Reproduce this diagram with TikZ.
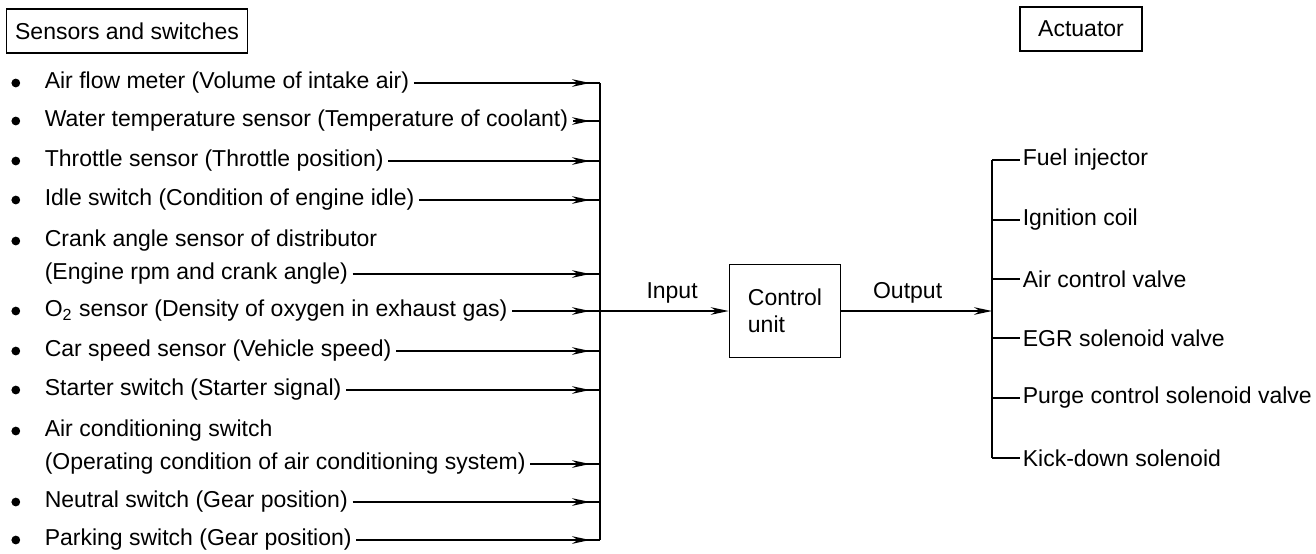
\documentclass[tikz,border=0pt]{standalone}
\usepackage{fontspec}
\setmainfont{Liberation Sans}
\usetikzlibrary{arrows.meta,decorations.markings}

\begin{document}
\begin{tikzpicture}[x=0.5pt, y=-0.5pt,
                    line width=0.8pt,
                    font=\fontsize{11.5}{13.5}\selectfont,
                    >={Stealth[length=9pt,width=3.8pt]},
                    head box/.style={draw, minimum height=22pt},
                    sensor/.style={anchor=west, inner sep=2pt},
                    dot/.style={circle, fill, inner sep=0pt, minimum size=4.4pt},
                    item/.style={sensor, label={[dot, label distance=9.5pt]left:{}}},
                    actuator/.style={anchor=west, inner sep=1pt},
                    feed/.style={postaction={decorate},
                      decoration={markings,
                        mark=at position -5pt with {\arrow{Stealth[length=9pt,width=3.8pt]}}}}]

  \useasboundingbox (0,0) rectangle (1316,553);

  % headings
  \node[head box, minimum width=120.5pt] (sens) at (127,31) {Sensors and switches};
  \node[head box, minimum width=61pt] (act) at (1081,29) {Actuator};

  % inputs
  \node[item] (s1) at (40,83) {Air flow meter (Volume of intake air)};
  \node[item] (s2) at (40,121) {Water temperature sensor (Temperature of coolant)};
  \node[item] (s3) at (40,161) {Throttle sensor (Throttle position)};
  \node[item] (s4) at (40,200) {Idle switch (Condition of engine idle)};
  \node[item] (s5a) at (40,241) {Crank angle sensor of distributor};
  \node[sensor] (s5) at (40,274) {(Engine rpm and crank angle)};
  \node[item] (s6) at (40,311) {O\textsubscript{2} sensor (Density of oxygen in exhaust gas)};
  \node[item] (s7) at (40,351) {Car speed sensor (Vehicle speed)};
  \node[item] (s8) at (40,390) {Starter switch (Starter signal)};
  \node[item] (s9a) at (40,431) {Air conditioning switch};
  \node[sensor] (s9) at (40,464) {(Operating condition of air conditioning system)};
  \node[item] (s10) at (40,502) {Neutral switch (Gear position)};
  \node[item] (s11) at (40,540) {Parking switch (Gear position)};

  \node[draw, minimum width=55.5pt, minimum height=46.5pt, align=left] (cu) at (785,311) {Control\\unit};

  % outputs
  \node[actuator] (a1) at (1020,160) {Fuel injector};
  \node[actuator] (a2) at (1020,220) {Ignition coil};
  \node[actuator] (a3) at (1020,279) {Air control valve};
  \node[actuator] (a4) at (1020,338) {EGR solenoid valve};
  \node[actuator] (a5) at (1020,398) {Purge control solenoid valve};
  \node[actuator] (a6) at (1020,458) {Kick-down solenoid};

  \coordinate (bus) at (600,311);
  \coordinate (abus) at (992,311);

  \draw[feed] (s1) -- (s1 -| bus);
  \draw[feed] (s2) -- (s2 -| bus);
  \draw[feed] (s3) -- (s3 -| bus);
  \draw[feed] (s4) -- (s4 -| bus);
  \draw[feed] (s5) -- (s5 -| bus);
  \draw[feed] (s6) -- (s6 -| bus);
  \draw[feed] (s7) -- (s7 -| bus);
  \draw[feed] (s8) -- (s8 -| bus);
  \draw[feed] (s9) -- (s9 -| bus);
  \draw[feed] (s10) -- (s10 -| bus);
  \draw[feed] (s11) -- (s11 -| bus);
  \draw (s1 -| bus) -- (s11 -| bus);

  \draw[->] (bus) -- node[above, pos=0.56] {Input} (cu);
  \draw[->] (cu) -- node[above, pos=0.44] {Output} (abus);

  \draw (a1 -| abus) -- (a6 -| abus);
  \draw (a1 -| abus) -- (a1);
  \draw (a2 -| abus) -- (a2);
  \draw (a3 -| abus) -- (a3);
  \draw (a4 -| abus) -- (a4);
  \draw (a5 -| abus) -- (a5);
  \draw (a6 -| abus) -- (a6);
\end{tikzpicture}
\end{document}
